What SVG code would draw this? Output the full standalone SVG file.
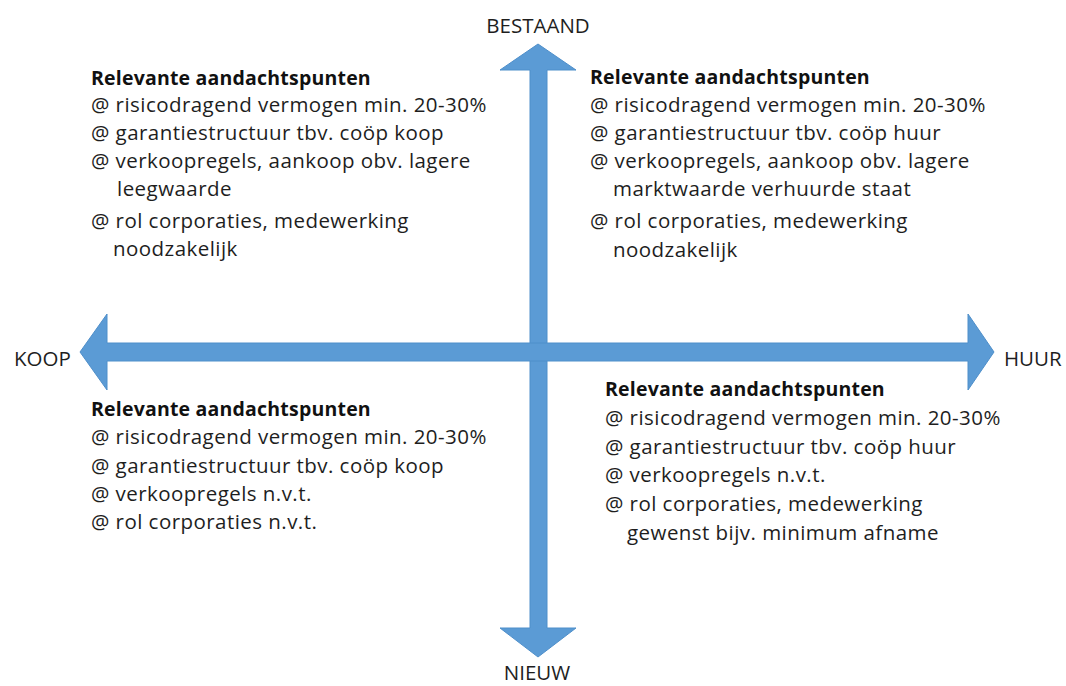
<svg xmlns="http://www.w3.org/2000/svg" width="1066" height="686" viewBox="0 0 1066 686">
<style>
text{font-family:"Open Sans","Liberation Sans",sans-serif;font-size:20.5px;fill:#1e1e1e;letter-spacing:0.45px}
.t{font-weight:bold;fill:#111;font-size:19.5px;letter-spacing:0.2px}
.lb{letter-spacing:0}
.ax{fill:#5b9bd5;stroke:#4f8fca;stroke-width:1}
</style>
<rect width="1066" height="686" fill="#ffffff"/>
<g id="connectors">
<path class="ax" d="M538,44 L576,70 L547,70 L547,628 L576,628 L538,657 L500,628 L530,628 L530,70 L500,70 Z"/>
<path class="ax" d="M80,352 L107,314 L107,343 L968,343 L968,314 L994,352 L968,390 L968,361 L107,361 L107,390 Z"/>
</g>
<g id="label-bestaand"><text class="lb" x="538" y="33" text-anchor="middle">BESTAAND</text></g>
<g id="label-koop"><text class="lb" x="14" y="366">KOOP</text></g>
<g id="label-huur"><text class="lb" x="1004" y="366">HUUR</text></g>
<g id="label-nieuw"><text class="lb" x="537" y="680" text-anchor="middle">NIEUW</text></g>
<g id="block-tl">
<text class="t" x="91" y="85">Relevante aandachtspunten</text>
<text x="91" y="112">@ risicodragend vermogen min. 20-30%</text>
<text x="91" y="140">@ garantiestructuur tbv. coöp koop</text>
<text x="91" y="168">@ verkoopregels, aankoop obv. lagere</text>
<text x="117" y="196">leegwaarde</text>
<text x="91" y="228">@ rol corporaties, medewerking</text>
<text x="113" y="256">noodzakelijk</text>
</g>
<g id="block-tr">
<text class="t" x="590" y="84">Relevante aandachtspunten</text>
<text x="590" y="112">@ risicodragend vermogen min. 20-30%</text>
<text x="590" y="140">@ garantiestructuur tbv. coöp huur</text>
<text x="590" y="168">@ verkoopregels, aankoop obv. lagere</text>
<text x="613" y="196">marktwaarde verhuurde staat</text>
<text x="590" y="228">@ rol corporaties, medewerking</text>
<text x="613" y="257">noodzakelijk</text>
</g>
<g id="block-bl">
<text class="t" x="91" y="416">Relevante aandachtspunten</text>
<text x="91" y="444">@ risicodragend vermogen min. 20-30%</text>
<text x="91" y="473">@ garantiestructuur tbv. coöp koop</text>
<text x="91" y="501">@ verkoopregels n.v.t.</text>
<text x="91" y="529">@ rol corporaties n.v.t.</text>
</g>
<g id="block-br">
<text class="t" x="605" y="396">Relevante aandachtspunten</text>
<text x="605" y="425">@ risicodragend vermogen min. 20-30%</text>
<text x="605" y="454">@ garantiestructuur tbv. coöp huur</text>
<text x="605" y="482">@ verkoopregels n.v.t.</text>
<text x="605" y="511">@ rol corporaties, medewerking</text>
<text x="627" y="540">gewenst bijv. minimum afname</text>
</g>
</svg>
